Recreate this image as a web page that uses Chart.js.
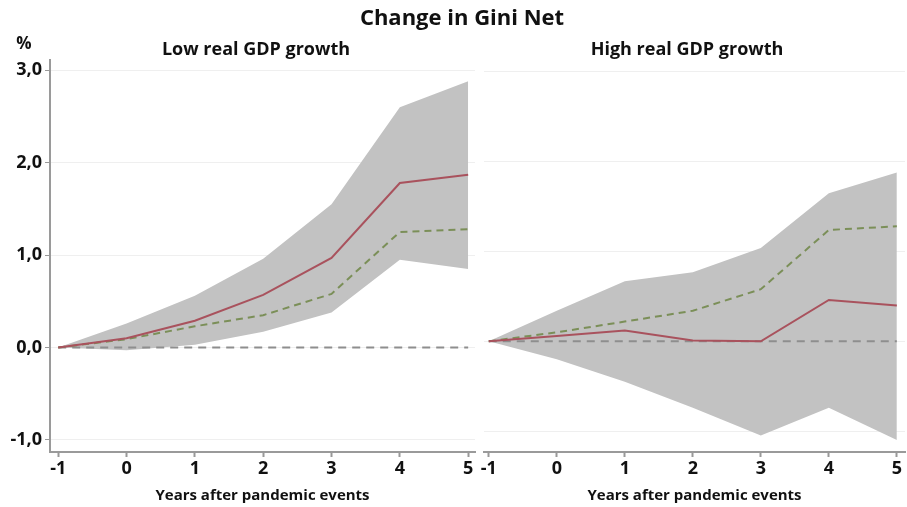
<!DOCTYPE html>
<html>
<head>
<meta charset="utf-8">
<script src="https://cdn.jsdelivr.net/npm/chart.js@4.4.1/dist/chart.umd.min.js"></script>
<style>
  html, body { margin: 0; padding: 0; background: #fff; }
  #wrap { position: relative; width: 907px; height: 507px; overflow: hidden; font-family: "Open Sans", sans-serif; color: #111; }
  .txt { position: absolute; font-weight: bold; white-space: nowrap; transform: translateX(-50%); line-height: 1; }
  #cL { position: absolute; left: 0; top: 0; }
  #cR { position: absolute; left: 478px; top: 0; }
</style>
</head>
<body>
<div id="wrap">
  <canvas id="cL" width="480" height="507"></canvas>
  <canvas id="cR" width="429" height="507"></canvas>
  <div class="txt" style="left:462px; top:5px; font-size:22px;">Change in Gini Net</div>
  <div class="txt" style="left:24px; top:34px; font-size:17px;">%</div>
  <div class="txt" style="left:256px; top:39px; font-size:18px;">Low real GDP growth</div>
  <div class="txt" style="left:687px; top:39px; font-size:18px;">High real GDP growth</div>
</div>
<script>
// Years relative to the pandemic event
const years = [-1, 0, 1, 2, 3, 4, 5];
const yTickValues = [-1, 0, 1, 2, 3];
const yTickLabels = ["-1,0", "0,0", "1,0", "2,0", "3,0"];

// Low real GDP growth
const lowEstimate = [0, 0.10, 0.29, 0.57, 0.97, 1.78, 1.87];
const lowBaseline = [0, 0.09, 0.23, 0.35, 0.58, 1.25, 1.28];
const lowUpper    = [0, 0.26, 0.56, 0.96, 1.55, 2.60, 2.88];
const lowLower    = [0, -0.03, 0.03, 0.17, 0.38, 0.95, 0.85];

// High real GDP growth
const highEstimate = [0, 0.06, 0.12, 0.01, 0.00, 0.46, 0.40];
const highBaseline = [0, 0.10, 0.22, 0.34, 0.58, 1.24, 1.28];
const highUpper    = [0, 0.34, 0.67, 0.77, 1.04, 1.65, 1.88];
const highLower    = [0, -0.20, -0.45, -0.74, -1.05, -0.74, -1.10];

const zeroLine = years.map(() => 0);

const pts = arr => years.map((x, i) => ({ x: x, y: arr[i] }));

function datasets(est, base, up, lo) {
  return [
    { data: pts(up), borderWidth: 0, pointRadius: 0, fill: '+1', backgroundColor: '#c2c2c2', order: 4 },
    { data: pts(lo), borderWidth: 0, pointRadius: 0, fill: false, order: 4 },
    { data: pts(zeroLine), borderColor: '#8e8e8e', borderWidth: 2, borderDash: [8, 6], pointRadius: 0, fill: false, order: 3 },
    { data: pts(base), borderColor: '#7b8f58', borderWidth: 2, borderDash: [7, 5], pointRadius: 0, fill: false, order: 2 },
    { data: pts(est), borderColor: '#a9525d', borderWidth: 2, pointRadius: 0, fill: false, order: 1 }
  ];
}

const tickFont = { family: "'Open Sans', sans-serif", size: 18, weight: 'bold' };

function xScale(min, max) {
  return {
    type: 'linear', min: min, max: max,
    afterBuildTicks: s => { s.ticks = years.map(v => ({ value: v })); },
    afterFit: s => { s.height = 55; },
    grid: { drawOnChartArea: false, drawTicks: true, tickLength: 5, tickColor: '#999', tickWidth: 2 },
    border: { display: true, color: '#9a9a9a', width: 2 },
    ticks: { color: '#111', font: tickFont, padding: 1, maxRotation: 0, autoSkip: false, callback: v => String(v) },
    title: { display: true, text: 'Years after pandemic events', color: '#111',
             font: { family: "'Open Sans', sans-serif", size: 15, weight: 'bold' }, padding: { top: 2, bottom: 2 } }
  };
}

const common = {
  responsive: false,
  animation: false,
  events: [],
  plugins: { legend: { display: false }, tooltip: { enabled: false }, title: { display: false } },
  elements: { line: { tension: 0 } }
};

new Chart(document.getElementById('cL'), {
  type: 'line',
  data: { datasets: datasets(lowEstimate, lowBaseline, lowUpper, lowLower) },
  options: Object.assign({}, common, {
    layout: { padding: { top: 60, right: 5, bottom: 0, left: 0 } },
    scales: {
      x: xScale(-1.12, 5.1),
      y: {
        min: -1.13, max: 3.11,
        afterBuildTicks: s => { s.ticks = yTickValues.map(v => ({ value: v })); },
        afterFit: s => { s.width = 50; },
        grid: { color: '#efefef', lineWidth: 1, drawTicks: true, tickLength: 5, tickColor: '#999', tickWidth: 1 },
        border: { display: true, color: '#9a9a9a', width: 2 },
        ticks: { color: '#111', font: tickFont, padding: 3,
                 callback: v => yTickLabels[yTickValues.indexOf(v)] }
      }
    }
  })
});

new Chart(document.getElementById('cR'), {
  type: 'line',
  data: { datasets: datasets(highEstimate, highBaseline, highUpper, highLower) },
  options: Object.assign({}, common, {
    layout: { padding: { top: 60, right: 2, bottom: 0, left: 0 } },
    scales: {
      x: xScale(-1.07, 5.12),
      y: {
        min: -1.233, max: 3.133,
        afterBuildTicks: s => { s.ticks = yTickValues.map(v => ({ value: v })); },
        afterFit: s => { s.width = 6; },
        grid: { color: '#efefef', lineWidth: 1, drawTicks: false },
        border: { display: false },
        ticks: { display: false }
      }
    }
  })
});
</script>
</body>
</html>
